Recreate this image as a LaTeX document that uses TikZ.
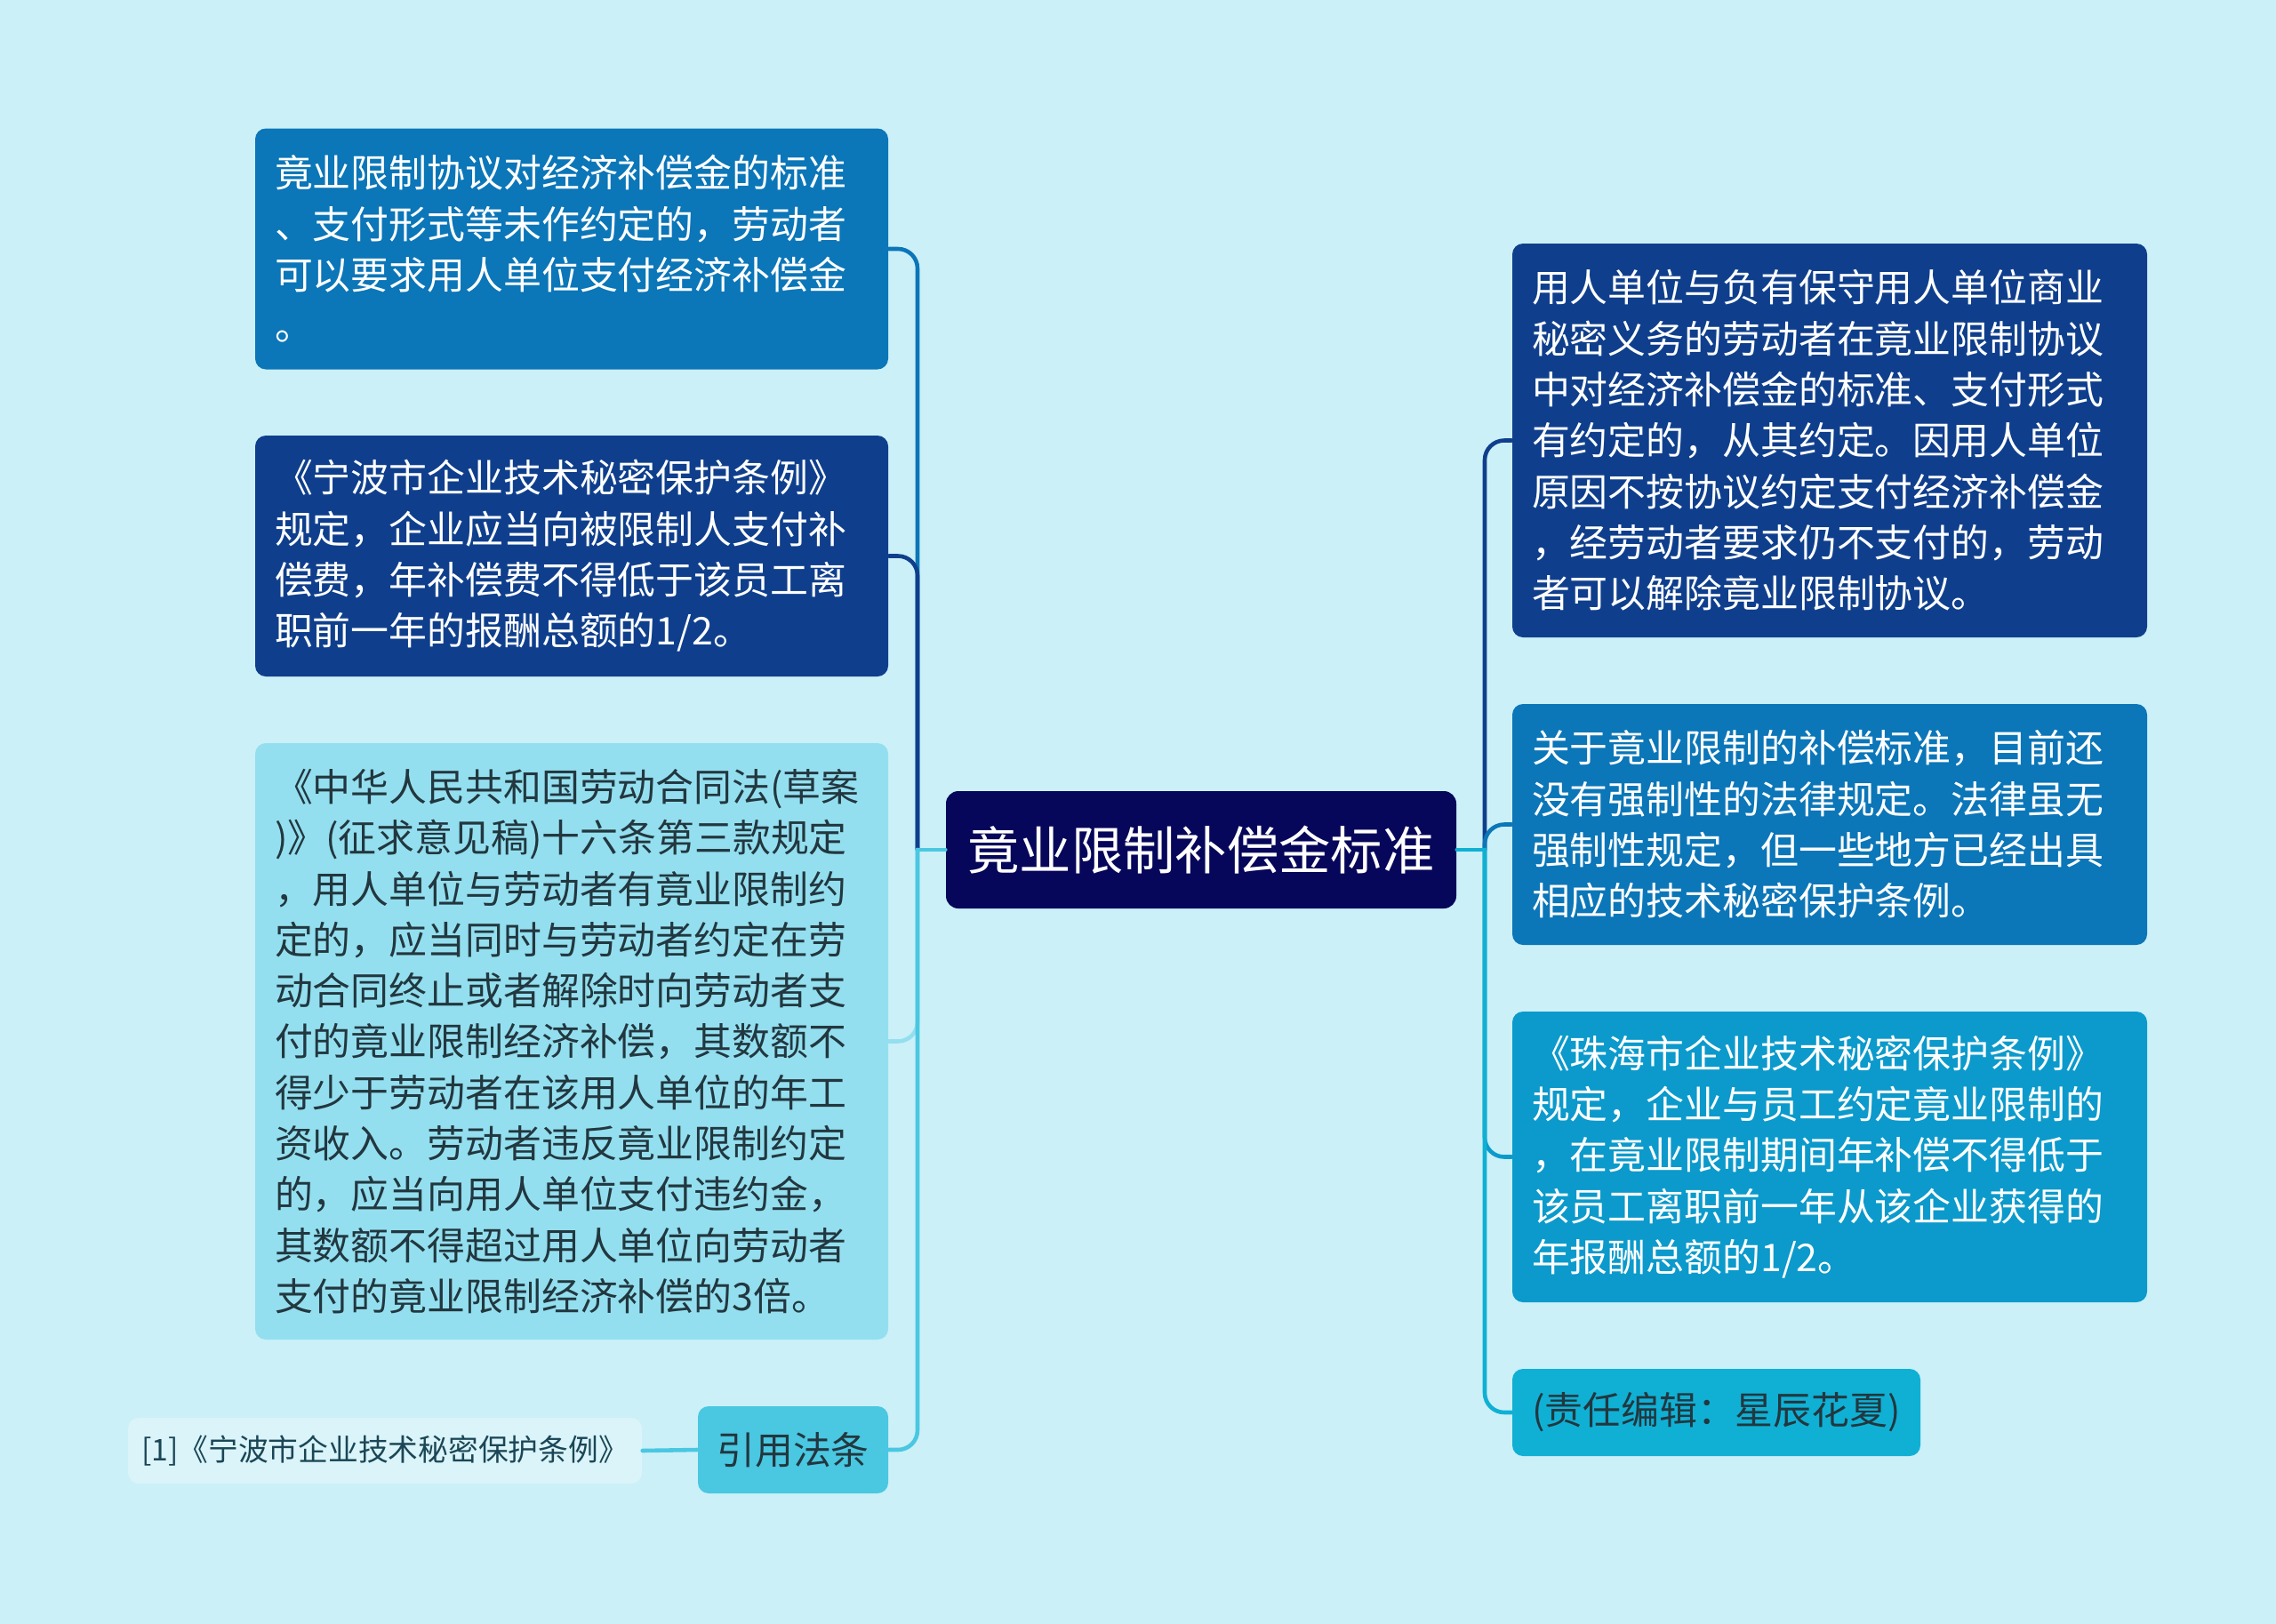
\documentclass[tikz,border=0pt]{standalone}
\usepackage{fontspec}
\newfontfamily\cjk{Noto Sans CJK SC}
\definecolor{bgcol}{HTML}{CBF0F8}
\definecolor{navy}{HTML}{06065A}
\definecolor{deepblue}{HTML}{0F3F8C}
\definecolor{midblue}{HTML}{0B76B8}
\definecolor{seablue}{HTML}{0B9ACB}
\definecolor{aqua}{HTML}{10B0D4}
\definecolor{paleaqua}{HTML}{94DFEF}
\definecolor{citeaqua}{HTML}{4AC7E1}
\definecolor{refbg}{HTML}{DAF4F9}
\definecolor{inkdark}{HTML}{22373F}
\definecolor{inkteal}{HTML}{1B4656}
\begin{document}
\begin{tikzpicture}[line join=round, line cap=round,
	box/.style={rounded corners=0.12cm, inner xsep=0.22cm, inner ysep=0pt, align=left, text width=6.68cm, font=\cjk\fontsize{12.2}{16.3}\selectfont},
	small/.style={rounded corners=0.12cm, inner sep=0pt, align=center, font=\cjk\fontsize{12.2}{16.3}\selectfont},
	lk/.style={line width=1.3pt, rounded corners=0.22cm}]
	\fill[bgcol] (0,0) rectangle (25.6,-18.27);
	% centre and junctions
	\node[fill=navy, text=white, rounded corners=0.14cm, minimum width=5.74cm, minimum height=1.32cm, inner sep=0pt, font=\cjk\fontsize{16.6}{20}\selectfont] (ctr) at (13.51,-9.56) {竟业限制补偿金标准};
	\coordinate (jl) at (10.32,-9.56);
	\coordinate (jr) at (16.70,-9.56);
	% left branches
	\node[box, fill=midblue, text=white, minimum height=2.71cm] (l1) at (6.43,-2.80) {竟业限制协议对经济补偿金的标准\\、支付形式等未作约定的，劳动者\\可以要求用人单位支付经济补偿金\\。};
	\node[box, fill=deepblue, text=white, minimum height=2.71cm] (l2) at (6.43,-6.255) {《宁波市企业技术秘密保护条例》\\规定，企业应当向被限制人支付补\\偿费，年补偿费不得低于该员工离\\职前一年的报酬总额的1/2。};
	\node[box, fill=paleaqua, text=inkdark, minimum height=6.71cm] (l3) at (6.43,-11.715) {《中华人民共和国劳动合同法(草案\\)》(征求意见稿)十六条第三款规定\\，用人单位与劳动者有竟业限制约\\定的，应当同时与劳动者约定在劳\\动合同终止或者解除时向劳动者支\\付的竟业限制经济补偿，其数额不\\得少于劳动者在该用人单位的年工\\资收入。劳动者违反竟业限制约定\\的，应当向用人单位支付违约金，\\其数额不得超过用人单位向劳动者\\支付的竟业限制经济补偿的3倍。};
	\node[small, fill=citeaqua, text=inkdark, minimum width=2.14cm, minimum height=0.98cm] (cite) at (8.92,-16.31) {引用法条};
	\node[small, fill=refbg, text=inkteal, minimum width=5.78cm, minimum height=0.74cm, font=\cjk\fontsize{9.6}{12}\selectfont] (ref) at (4.33,-16.32) {[1]《宁波市企业技术秘密保护条例》};
	% right branches
	\node[box, fill=deepblue, text=white, minimum height=4.43cm, text width=6.70cm] (r1) at (20.58,-4.955) {用人单位与负有保守用人单位商业\\秘密义务的劳动者在竟业限制协议\\中对经济补偿金的标准、支付形式\\有约定的，从其约定。因用人单位\\原因不按协议约定支付经济补偿金\\，经劳动者要求仍不支付的，劳动\\者可以解除竟业限制协议。};
	\node[box, fill=midblue, text=white, minimum height=2.71cm, text width=6.70cm] (r2) at (20.58,-9.275) {关于竟业限制的补偿标准，目前还\\没有强制性的法律规定。法律虽无\\强制性规定，但一些地方已经出具\\相应的技术秘密保护条例。};
	\node[box, fill=seablue, text=white, minimum height=3.27cm, text width=6.70cm] (r3) at (20.58,-13.015) {《珠海市企业技术秘密保护条例》\\规定，企业与员工约定竟业限制的\\，在竟业限制期间年补偿不得低于\\该员工离职前一年从该企业获得的\\年报酬总额的1/2。};
	\node[box, fill=aqua, text=inkdark, minimum height=0.98cm, text width=4.15cm] (r4) at (19.305,-15.89) {(责任编辑：星辰花夏)};
	% connectors
	\draw[lk, midblue] (jl) |- (l1.east);
	\draw[lk, deepblue] (jl) |- (l2.east);
	\draw[lk, paleaqua] (jl) |- (l3.east);
	\draw[lk, citeaqua] (jl) |- (cite.east);
	\draw[lk, citeaqua] (ctr.west) -- (jl);
	\draw[lk, citeaqua] (ref.east) -- (cite.west);
	\draw[lk, deepblue] (jr) |- (r1.west);
	\draw[lk, midblue] (jr) |- (r2.west);
	\draw[lk, seablue] (jr) |- (r3.west);
	\draw[lk, aqua] (jr) |- (r4.west);
	\draw[lk, aqua] (ctr.east) -- (jr);
\end{tikzpicture}
\end{document}
